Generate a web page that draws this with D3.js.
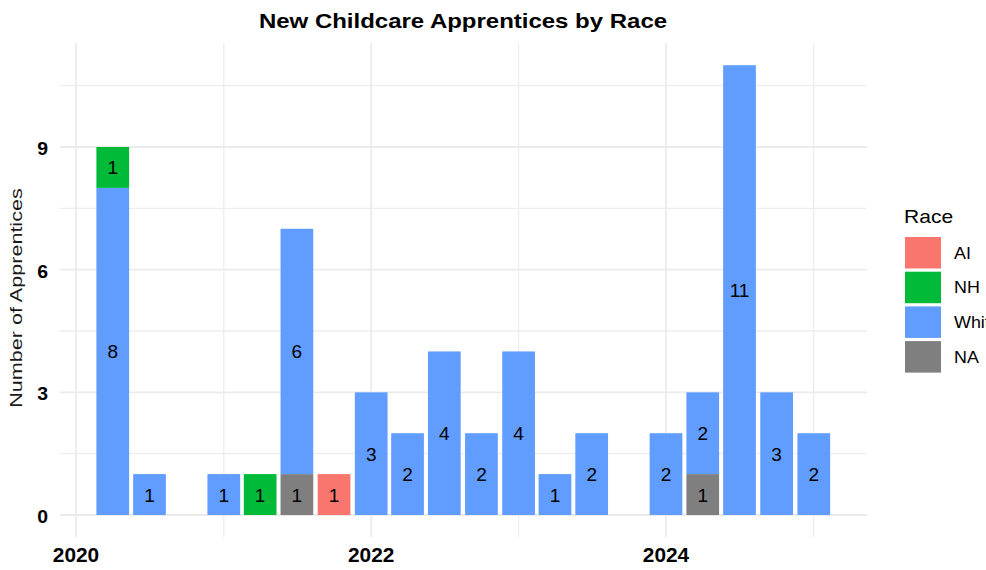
<!DOCTYPE html>
<html>
<head>
<meta charset="utf-8">
<script src="https://cdn.jsdelivr.net/npm/d3@7"></script>
<style>
  html, body { margin: 0; padding: 0; background: #fff; }
  svg { display: block; font-family: "Liberation Sans", Arial, sans-serif; }
</style>
</head>
<body>
<svg id="chart" width="986" height="570"></svg>
<script>
// ---- data ----
const quarters = ["2020-04-01","2020-07-01","2021-01-01","2021-04-01","2021-07-01","2021-10-01",
  "2022-01-01","2022-04-01","2022-07-01","2022-10-01","2023-01-01","2023-04-01","2023-07-01",
  "2024-01-01","2024-04-01","2024-07-01","2024-10-01","2025-01-01"];
const AI    = [0,0,0,0,0,1,0,0,0,0,0,0,0,0,0,0,0,0];
const NH    = [1,0,0,1,0,0,0,0,0,0,0,0,0,0,0,0,0,0];
const White = [8,1,1,0,6,0,3,2,4,2,4,1,2,2,2,11,3,2];
const NAv   = [0,0,0,0,1,0,0,0,0,0,0,0,0,0,1,0,0,0];
const raceKeys = ["AI","NH","White","NA"];
const raceLabels = ["AI","NH","White","NA"];
const raceColors = ["#F8766D","#00BA38","#619CFF","#7F7F7F"];
const yTicks = [0,3,6,9];
const yMinor = [1.5,4.5,7.5,10.5];
const xTicks = ["2020-01-01","2022-01-01","2024-01-01"];
const xTickLabels = ["2020","2022","2024"];
const xMinor = ["2021-01-01","2023-01-01","2025-01-01"];
const titleText = "New Childcare Apprentices by Race";
const yTitle = "Number of Apprentices";
const legendTitle = "Race";

// ---- setup ----
const parse = d3.utcParse("%Y-%m-%d");
const rows = quarters.map((q,i) => ({date: parse(q), AI: AI[i], NH: NH[i], White: White[i], NA: NAv[i]}));
const svg = d3.select("#chart");
const panel = {left: 60, right: 867, top: 43, bottom: 537};

const x = d3.scaleUtc().domain([parse("2020-01-01"), parse("2024-01-01")]).range([76, 666]);
const y = d3.scaleLinear().domain([0, 9]).range([515, 147]);
const color = d3.scaleOrdinal().domain(raceKeys).range(raceColors);
const DAY = 864e5;
const halfW = 40.5 * DAY;

// ---- grid ----
const g = svg.append("g");
g.selectAll("line.ymin").data(yMinor).join("line")
  .attr("x1", panel.left).attr("x2", panel.right)
  .attr("y1", d => y(d)).attr("y2", d => y(d))
  .attr("stroke", "#EDEDED").attr("stroke-width", 1.3);
g.selectAll("line.xmin").data(xMinor).join("line")
  .attr("x1", d => x(parse(d))).attr("x2", d => x(parse(d)))
  .attr("y1", panel.top).attr("y2", panel.bottom)
  .attr("stroke", "#EDEDED").attr("stroke-width", 1.3);
g.selectAll("line.ymaj").data(yTicks).join("line")
  .attr("x1", panel.left).attr("x2", panel.right)
  .attr("y1", d => y(d)).attr("y2", d => y(d))
  .attr("stroke", "#EBEBEB").attr("stroke-width", 1.8);
g.selectAll("line.xmaj").data(xTicks).join("line")
  .attr("x1", d => x(parse(d))).attr("x2", d => x(parse(d)))
  .attr("y1", panel.top).attr("y2", panel.bottom)
  .attr("stroke", "#EBEBEB").attr("stroke-width", 1.8);

// ---- bars ----
const stackOrder = ["NA","White","NH","AI"]; // bottom to top
const series = d3.stack().keys(stackOrder)(rows);
const segs = [];
series.forEach(s => s.forEach(d => {
  if (d[1] - d[0] > 0) segs.push({key: s.key, y0: d[0], y1: d[1], date: d.data.date});
}));
svg.append("g").selectAll("rect").data(segs).join("rect")
  .attr("x", d => x(new Date(+d.date - halfW)))
  .attr("width", d => x(new Date(+d.date + halfW)) - x(new Date(+d.date - halfW)))
  .attr("y", d => y(d.y1))
  .attr("height", d => y(d.y0) - y(d.y1))
  .attr("fill", d => color(d.key));

svg.append("g").selectAll("text").data(segs).join("text")
  .attr("x", d => x(d.date))
  .attr("y", d => y((d.y0 + d.y1) / 2) + 7)
  .attr("text-anchor", "middle")
  .attr("font-size", 19)
  .attr("fill", "#000")
  .text(d => d.y1 - d.y0);

// helper for horizontally stretched text
function stretchText(parent, tx, ty, str, opts) {
  const t = parent.append("text")
    .attr("transform", `translate(${tx},${ty}) ${opts.rotate ? "rotate(" + opts.rotate + ")" : ""} scale(${opts.sx || 1},1)`)
    .attr("text-anchor", opts.anchor || "start")
    .attr("font-size", opts.size)
    .attr("font-weight", opts.weight || "normal")
    .attr("fill", opts.fill || "#000")
    .text(str);
  return t;
}

// ---- axes labels ----
const ax = svg.append("g");
yTicks.forEach(v => stretchText(ax, 48, y(v) + 8, String(v), {size: 18, weight: "bold", anchor: "end", sx: 1.08}));
xTicks.forEach((d, i) => stretchText(ax, x(parse(d)), 562, xTickLabels[i], {size: 19.5, weight: "bold", anchor: "middle", sx: 1.07}));
stretchText(ax, 22, 298, yTitle, {size: 17, anchor: "middle", rotate: -90, sx: 1.27, fill: "#1a1a1a"});

// ---- title ----
stretchText(svg, 463, 28.3, titleText, {size: 20.5, weight: "bold", anchor: "middle", sx: 1.17});

// ---- legend ----
const lg = svg.append("g");
stretchText(lg, 904, 223, legendTitle, {size: 18, sx: 1.17});
raceKeys.forEach((k, i) => {
  const top = 237 + i * 34.7;
  lg.append("rect").attr("x", 905).attr("y", top).attr("width", 36).attr("height", 31.5)
    .attr("fill", color(k));
  stretchText(lg, 954, top + 15.75 + 6, raceLabels[i], {size: 16, sx: 1.12});
});
</script>
</body>
</html>
